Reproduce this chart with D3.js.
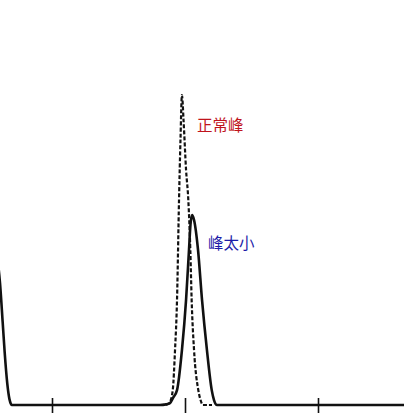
<!DOCTYPE html>
<html lang="zh">
<head>
    <meta charset="UTF-8">
    <title>峰形</title>
    <style>
        body{ margin:0; background:#fff; }
        svg{ display:block; }
        text.lbl{ font-family:"Noto Sans CJK SC", sans-serif; font-size:15.5px; }
    </style>
    <script src="https://cdn.jsdelivr.net/npm/d3@7"></script>
</head>
<body>
<script>
    const width = 404
    const height = 419

    // retention time (min) and signal
    const solidT = [0.586,0.609,0.629,0.644,0.664,0.680,0.699,0.797,1.0,1.5,1.812,1.857,1.887,1.910,1.940,1.977,2.008,2.030,2.041,2.053,2.068,2.098,2.128,2.165,2.201,2.218,2.241,2.338,3.0,3.7]
    const solidV = [48.4,39.4,26.8,17.1,6.8,1.9,0,0,0,0,0,0.2,0.6,2.3,4.8,17.7,33.9,50,58.1,61.3,59.7,50,33.9,17.7,4.8,1.6,0,0,0,0]
    const dashT = [1.812,1.865,1.887,1.908,1.925,1.940,1.955,1.966,1.977,1.989,2.008,2.025,2.040,2.050,2.068,2.100,2.117,2.135,2.203]
    const dashV = [0,0.2,1.0,4.8,17.7,33.9,66.1,85.5,100,91.9,75.8,66.1,50,33.9,17.7,4.8,1.6,0,0]
    const ticks = [1,2,3]

    const x = d3.scaleLinear().domain([1,3]).range([52,318])
    const y = d3.scaleLinear().domain([0,100]).range([405,95])

    let svg = d3.select("body").append("svg")
        .attr("width",width).attr("height",height)

    svg.append("defs").append("clipPath").attr("id","clip")
        .append("rect").attr("x",0).attr("y",0).attr("width",width).attr("height",height)

    const line = d3.line()
        .x(d=>x(d[0])).y(d=>y(d[1]))
        .curve(d3.curveMonotoneX)

    // axis ticks crossing the baseline
    let gAxis = svg.append("g").attr("transform",`translate(0,${y(0)})`)
        .call(d3.axisBottom(x).tickValues(ticks).tickFormat(""))
    gAxis.select(".domain").remove()
    gAxis.selectAll(".tick line")
        .attr("y1",-7).attr("y2",8)
        .attr("stroke","#111").attr("stroke-width",1.6)

    let gPlot = svg.append("g").attr("clip-path","url(#clip)")

    gPlot.append("path")
        .datum(dashT.map((t,i)=>[t,dashV[i]]))
        .attr("fill","none")
        .attr("stroke","#111")
        .attr("stroke-width",2.2)
        .attr("stroke-dasharray","4,2")
        .attr("d",line)

    gPlot.append("path")
        .datum(solidT.map((t,i)=>[t,solidV[i]]))
        .attr("fill","none")
        .attr("stroke","#111")
        .attr("stroke-width",2.6)
        .attr("stroke-linejoin","round")
        .attr("d",line)

    //labels
    svg.append("text").attr("class","lbl")
        .attr("x",197).attr("y",131)
        .attr("fill","#c0141c")
        .text("正常峰")
    svg.append("text").attr("class","lbl")
        .attr("x",208).attr("y",249)
        .attr("fill","#1c1ca8")
        .text("峰太小")
</script>
</body>
</html>
